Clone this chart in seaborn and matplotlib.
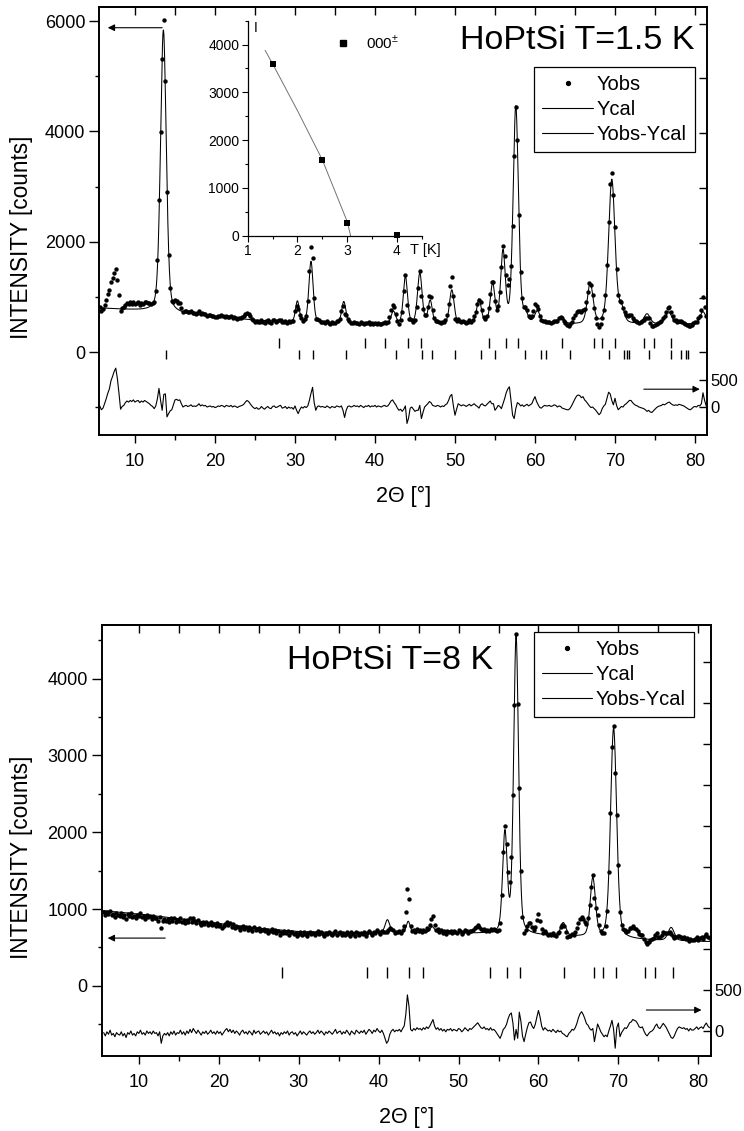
import numpy as np
import matplotlib.pyplot as plt
import seaborn as sns
from matplotlib.lines import Line2D
from matplotlib.ticker import MultipleLocator, FixedLocator, FixedFormatter, NullFormatter

sns.set_theme(style='ticks', rc={'axes.edgecolor': 'black', 'xtick.color': 'black',
                                 'ytick.color': 'black', 'text.color': 'black',
                                 'axes.labelcolor': 'black'})
plt.rcParams['font.family'] = ['Liberation Sans', 'DejaVu Sans']
plt.rcParams['mathtext.fontset'] = 'custom'
plt.rcParams['mathtext.rm'] = 'Liberation Sans'

# step scan 5.6 .. 81.4 deg, 0.2 deg step
two_theta = np.round(5.6 + 0.2 * np.arange(380), 1)

# ---- T = 1.5 K : calculated profile (background knots + reflections)
bg_x_15K = [5.5, 10, 15, 20, 25, 30, 35, 40, 50, 60, 70, 81.5]
bg_y_15K = [800, 760, 700, 640, 580, 540, 520, 500, 500, 500, 500, 510]
pos_15K = [13.55, 30.3, 32.0, 36.1, 42.3, 43.8, 45.6, 46.9, 49.6, 53.0, 54.7,
           56.0, 57.6, 58.8, 60.3, 63.3, 66.9, 69.6, 70.8, 74.0, 76.7, 81.0]
hgt_15K = [5120, 380, 1110, 400, 230, 860, 920, 420, 620, 440, 700,
           1280, 3940, 150, 220, 120, 730, 2620, 260, 180, 220, 220]
fwhm_15K = [0.85, 0.55, 0.62, 0.62, 0.68, 0.62, 0.68, 0.62, 0.68, 0.68, 0.68,
            0.68, 0.78, 0.68, 0.78, 0.9, 0.85, 0.95, 0.78, 0.9, 0.9, 0.9]
# Yobs - Ycal at T = 1.5 K (one row = 2 deg)
resid_15K = [
    20, -50, -20, 60, 150, 250, 330, 480, 560, 650,
    710, 520, 250, -40, 10, 30, 80, 110, 90, 120,
    100, 130, 90, 110, 120, 80, 110, 90, 120, 100,
    80, 60, 30, 10, -30, 20, 150, 340, 120, -60,
    230, 240, -180, -120, -70, -50, 40, 130, 140, 120,
    130, 60, 0, 20, 30, 10, 20, 40, 10, 20,
    10, 30, 60, 20, 40, 20, 30, 0, 10, 20,
    0, 10, -10, 0, 20, 10, 30, 20, 0, 30,
    20, 10, 30, 0, 20, 10, -10, 10, 20, 30,
    50, 90, 120, 100, 60, 20, -10, -30, -10, -40,
    -30, 10, -20, -40, -10, 10, -20, -30, 10, 20,
    -10, 0, 20, 30, -20, -10, 10, -30, 0, -20,
    -10, -40, 20, -60, -120, -50, 0, -20, 10, -10,
    20, 120, 250, 360, 80, -60, 10, 20, 0, 10,
    0, -10, 20, 0, -20, 10, 0, -10, 20, 10,
    0, 20, -60, -190, -60, 10, 20, 0, 10, 30,
    10, 20, 0, 30, 10, -10, 20, 10, 30, 0,
    20, 10, 30, 0, 20, 10, 0, 20, 30, 10,
    20, 60, 110, 130, 80, 40, -20, -60, -40, -80,
    -40, 20, -300, -200, -20, 0, -40, -80, -60, -60,
    30, -210, -100, 0, 30, 60, 100, 80, 30, 20,
    10, 30, 20, 0, 20, 10, 40, 60, 120, 200,
    230, 20, -150, -40, 60, 40, 20, 40, 30, 10,
    30, 50, 20, 40, 60, 30, 10, -20, 40, 60,
    30, 20, 50, 80, 110, 60, 60, -60, -20, 30,
    10, -30, 60, 150, 260, 330, 370, 120, -150, -210,
    -30, 80, 60, 20, 40, 10, 30, 50, 20, 40,
    60, 130, 190, 100, 40, -10, -20, 10, 30, 20,
    20, 30, 10, 20, 40, 30, 0, 20, 10, -20,
    -30, -40, -50, -50, -20, 30, 90, 150, 200, 220,
    210, 170, 190, 130, 100, 60, 20, -10, 0, -30,
    -60, -100, -140, -110, -30, 20, 50, 160, 270, 240,
    120, 40, 160, 30, -50, -20, 10, 0, 40, 60,
    90, 120, 120, 80, 50, 30, 20, 0, -10, -20,
    -30, -50, -80, -60, -90, -100, -70, -40, -10, 10,
    20, 30, 50, 40, 60, 80, 90, 60, 40, 30,
    40, 30, 50, 40, 30, 20, 0, -20, -40, -50,
    -30, 0, 10, 0, 30, 20, 60, 260, 120, 20,
]
nuc_ticks_15K = [28.0, 38.7, 41.3, 44.1, 45.8, 54.2, 56.4, 57.9, 63.4, 67.4, 68.4,
                 70.0, 73.6, 74.9, 77.0]
mag_ticks_15K = [13.9, 30.5, 32.3, 36.4, 42.6, 45.9, 47.1, 50.0, 53.3, 55.0, 58.7,
                 60.7, 61.4, 64.4, 69.3, 71.1, 71.5, 71.8, 74.3, 77.0, 78.3, 78.9, 79.1]

# ---- T = 8 K
bg_x_8K = [5.4, 10, 15, 20, 25, 30, 35, 40, 50, 55, 60, 65, 70, 75, 81.5]
bg_y_8K = [980, 935, 875, 810, 750, 705, 695, 690, 685, 675, 655, 635, 610, 590, 575]
pos_8K = [41.1, 43.7, 46.7, 55.8, 57.2, 63.1, 66.8, 69.4, 76.6]
hgt_8K = [170, 150, 80, 1290, 3870, 170, 760, 2740, 170]
fwhm_8K = [0.68, 0.55, 0.68, 0.68, 0.72, 0.78, 0.78, 0.9, 0.9]
resid_8K = [
    -20, -60, -10, -40, 10, -50, -30, -70, -20, -40,
    -50, -10, -60, -30, -80, -20, -40, 0, -50, -30,
    -60, -10, -30, 10, -40, -20, -50, 0, -30, -10,
    -40, 0, -30, -20, -60, -10, -150, -60, -30, -50,
    -20, -60, -10, -40, 0, -50, -20, -30, 10, -40,
    -10, -50, 0, -30, 20, -20, 30, 0, -30, 10,
    -20, -50, -10, -30, 0, -40, -20, 10, -30, -10,
    -40, 0, -30, -10, -50, -20, 10, 30, -10, 20,
    -20, 10, -30, 0, -20, -50, -10, 10, -30, -10,
    -40, 0, -20, -50, 10, -30, -10, 0, -40, -20,
    0, -30, -10, -50, -20, 10, -30, -10, -40, -20,
    -60, -20, -40, -10, -30, 0, -50, -20, -10, -40,
    -20, -60, -30, 0, -40, -10, -30, -50, -20, 0,
    -30, -10, -40, -20, 10, -30, 0, -20, -50, -10,
    -30, 0, -20, -40, -10, 20, -30, -10, 0, -40,
    -10, -30, 10, -20, -50, 0, -20, -40, 10, -10,
    -30, 0, -20, 10, -40, -10, 20, 0, -30, 10,
    -10, 30, 0, -20, 10, -30, -90, -150, -120, -40,
    0, 20, -10, 10, 0, 20, -10, 30, 60, 200,
    440, 300, 20, 0, 30, 10, 40, 20, 30, 10,
    40, 20, 50, 30, 60, 100, 140, 60, 20, 40,
    10, 30, 0, 20, -10, 20, 10, 30, 0, 20,
    10, 0, 30, 20, -10, 10, 40, 20, 0, 30,
    20, 40, 60, 80, 100, 70, 40, 30, 50, 20,
    30, 10, 40, 10, 20, 0, -30, -60, -90, -40,
    20, 40, 80, 150, 200, 220, 100, -110, 20, -90,
    230, 120, -60, -130, -40, 40, 100, 110, 60, 30,
    80, 170, 250, 170, 60, 10, 40, 20, 0, 10,
    -10, 20, 0, -20, 10, -10, 0, -30, -40, -60,
    -70, -30, -10, 20, 10, 40, 90, 160, 210, 235,
    200, 150, 90, 70, 30, 10, 30, -130, -20, 85,
    40, -10, -40, -70, -50, -70, 0, 60, 130, 20,
    -210, 40, 97, -70, -20, 10, 40, 30, 60, 100,
    110, 140, 130, 120, 90, 50, 40, 50, 0, -40,
    -60, -30, -10, 0, 20, 60, 85, 40, 30, 60,
    93, 70, 40, 0, -40, -80, -90, -60, -10, 30,
    50, 40, 30, 40, 20, 30, 0, 30, 10, 12,
    30, 50, 20, 40, 50, 30, 70, 97, 60, 40,
]
nuc_ticks_8K = [27.9, 38.5, 41.1, 43.8, 45.6, 53.9, 56.1, 57.7, 63.2, 66.9, 68.1,
                69.7, 73.3, 74.6, 76.8]

# ---- inset: magnetic (000+-) intensity vs temperature
inset_T = [1.5, 2.5, 3.0, 4.0]
inset_I = [3600, 1590, 260, 15]
fit_T = [1.35, 1.5, 2.0, 2.5, 3.0, 3.07]
fit_I = [3880, 3600, 2620, 1590, 300, 0]


def ycal(x, bg_x, bg_y, pos, hgt, fwhm, eta=0.3):
    y = np.interp(x, bg_x, bg_y)
    for p, h, w in zip(pos, hgt, fwhm):
        d = (np.asarray(x) - p) / w
        y = y + h * ((1 - eta) * np.exp(-4 * np.log(2) * d ** 2) + eta / (1 + 4 * d ** 2))
    return y


fine = np.linspace(5.2, 81.8, 4000)
TICK = 13

fig = plt.figure(figsize=(7.44, 11.31), dpi=100)


def panel(rect, xlim, ylim, rlim, rticks, bg_x, bg_y, pos, hgt, fwhm, resid,
          tick_rows, ymajor, yminor, title, title_xy, title_ha, leg_xy, ylab_xy, xlab_y, arrows):
    ax = fig.add_axes(rect)
    ycal_fine = ycal(fine, bg_x, bg_y, pos, hgt, fwhm)
    yobs = ycal(two_theta, bg_x, bg_y, pos, hgt, fwhm) + np.array(resid)

    sns.lineplot(x=fine, y=ycal_fine, ax=ax, color='black', lw=0.75,
                 estimator=None, sort=False)
    sns.scatterplot(x=two_theta, y=yobs, ax=ax, s=10, color='black', linewidth=0, zorder=3)
    for ticks, y0, y1 in tick_rows:
        ax.vlines(ticks, y0, y1, color='black', lw=1.0)

    ax.set_xlim(*xlim)
    ax.set_ylim(*ylim)
    ax.xaxis.set_major_locator(MultipleLocator(10))
    ax.xaxis.set_minor_locator(MultipleLocator(5))
    ax.yaxis.set_major_locator(MultipleLocator(ymajor))
    ax.yaxis.set_minor_locator(MultipleLocator(yminor))
    ax.set_yticks([t for t in ax.get_yticks() if 0 <= t <= ylim[1]])
    ax.tick_params(axis='x', which='major', direction='out', length=6, width=1,
                   labelsize=TICK, pad=7)
    ax.tick_params(axis='x', which='minor', direction='out', length=3.5, width=1)
    ax.tick_params(axis='y', which='major', direction='out', length=7, width=1,
                   labelsize=TICK, pad=3)
    ax.tick_params(axis='y', which='minor', direction='out', length=3, width=1)

    sec = ax.secondary_xaxis('top')
    sec.xaxis.set_major_locator(MultipleLocator(5))
    sec.xaxis.set_major_formatter(NullFormatter())
    sec.tick_params(axis='x', direction='in', length=6, width=1)

    ax.set_xlabel('2\u0398 [\u00b0]', fontsize=15.5)
    ax.set_ylabel('INTENSITY [counts]', fontsize=16.3)
    ax.yaxis.set_label_coords(*ylab_xy)
    ax.xaxis.set_label_coords(0.5, xlab_y)

    axr = ax.twinx()
    sns.lineplot(x=two_theta, y=resid, ax=axr, color='black', lw=0.8,
                 estimator=None, sort=False)
    axr.set_ylim(*rlim)
    axr.yaxis.set_major_locator(FixedLocator(rticks))
    axr.yaxis.set_major_formatter(FixedFormatter(['0', '500'] + [''] * (len(rticks) - 2)))
    axr.tick_params(axis='y', direction='in', length=6, width=1, labelsize=12, pad=2.5)
    axr.set_ylabel('')

    for a in (ax, axr):
        for sp in a.spines.values():
            sp.set_linewidth(1.2)
    sec.spines['top'].set_linewidth(1.2)

    for x0, x1, yv in arrows:
        ax.annotate('', xy=(x1, yv), xytext=(x0, yv),
                    arrowprops=dict(arrowstyle='-|>', color='black', lw=0.8,
                                    mutation_scale=10, shrinkA=0, shrinkB=0))

    ax.text(*title_xy, title, transform=ax.transAxes, ha=title_ha, va='center',
            fontsize=24.5)

    handles = [Line2D([], [], ls='none', marker='o', ms=2.8, color='black'),
               Line2D([], [], color='black', lw=0.8),
               Line2D([], [], color='black', lw=0.8)]
    leg = axr.legend(handles, ['Yobs', 'Ycal', 'Yobs-Ycal'], loc='upper right',
                     bbox_to_anchor=leg_xy, fontsize=14.5, frameon=True, fancybox=False,
                     edgecolor='black', framealpha=1, handlelength=2.5, handletextpad=0.2,
                     borderpad=0.4, labelspacing=0.3, borderaxespad=0)
    leg.get_frame().set_linewidth(0.9)
    return ax


# top panel  (figure px: x 99..707, y 7..435)
panel([99.3 / 744, 1 - 435 / 1131, 607.7 / 744, 427.7 / 1131],
      (5.54, 81.5), (-1500, 6250), (-511, 7300),
      [0, 500, 1000, 2000, 3000, 4000, 5000, 6000, 7000],
      bg_x_15K, bg_y_15K, pos_15K, hgt_15K, fwhm_15K, resid_15K,
      [(nuc_ticks_15K, 72, 254), (mag_ticks_15K, -127, 36)],
      2000, 1000, 'HoPtSi T=1.5 K', (0.980, 0.9235), 'right', (0.980, 0.860),
      (-0.109, 0.463), -0.118,
      [(13.4, 6.6, 5880), (73.6, 80.6, -670)])

# bottom panel  (figure px: x 102..711, y 625..1056)
panel([101.7 / 744, 1 - 1056 / 1131, 609 / 744, 431 / 1131],
      (5.35, 81.55), (-915, 4700), (-305, 4950),
      [0, 500, 1000, 1500, 2000, 2500, 3000, 3500, 4000, 4500],
      bg_x_8K, bg_y_8K, pos_8K, hgt_8K, fwhm_8K, resid_8K,
      [(nuc_ticks_8K, 100, 244)],
      1000, 500, 'HoPtSi T=8 K', (0.304, 0.9165), 'left', (0.9726, 0.9838),
      (-0.113, 0.4617), -0.118,
      [(13.3, 6.1, 621), (73.5, 80.4, -316)])

# inset
axi = fig.add_axes([247.7 / 744, 1 - 235.7 / 1131, 174 / 744, 215 / 1131])
axi.patch.set_alpha(0)
sns.lineplot(x=fit_T, y=fit_I, ax=axi, color='0.45', lw=0.7, estimator=None, sort=False)
sns.scatterplot(x=inset_T, y=inset_I, ax=axi, marker='s', s=24, color='black',
                linewidth=0, clip_on=False, zorder=4)
axi.set_xlim(1, 4.5)
axi.set_ylim(0, 4500)
axi.xaxis.set_major_locator(MultipleLocator(1))
axi.xaxis.set_minor_locator(MultipleLocator(0.5))
axi.yaxis.set_major_locator(FixedLocator([0, 1000, 2000, 3000, 4000]))
axi.yaxis.set_minor_locator(MultipleLocator(500))
axi.tick_params(axis='both', which='major', direction='out', length=4, width=0.8,
                labelsize=10, pad=2)
axi.tick_params(axis='both', which='minor', direction='out', length=2, width=0.8)
axi.spines['top'].set_visible(False)
axi.spines['right'].set_visible(False)
for s in ('left', 'bottom'):
    axi.spines[s].set_linewidth(0.9)
axi.text(0.048, 0.966, 'I', transform=axi.transAxes, fontsize=10, ha='center', va='center')
axi.text(0.93, -0.066, 'T [K]', transform=axi.transAxes, fontsize=10.5, ha='left', va='center')
axi.legend([Line2D([], [], ls='none', marker='s', ms=5, color='black')], ['000$^{\\pm}$'],
           loc='center left', bbox_to_anchor=(0.47, 0.898), frameon=False, fontsize=11,
           handlelength=1.0, handletextpad=1.0, borderaxespad=0)

fig.savefig('out.png', dpi=100)
